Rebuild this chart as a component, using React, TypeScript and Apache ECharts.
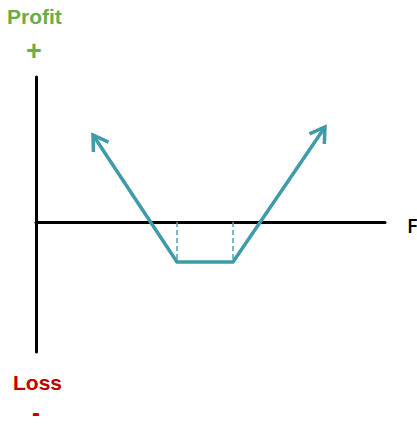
import React, { useEffect, useRef } from "react";
import * as echarts from "echarts";

// Payoff diagram (long strangle): price on x, profit on y
const payoffPrice = [57, 141, 197, 289];
const payoffProfit = [87, -40, -40, 95];
const strikes = [141, 197];
const strikeProfit = -40;

const xRange = [0, 349];
const yRange = [-130, 145];

const TEAL = "#3F9BA7";

export default function App() {
  const ref = useRef<HTMLDivElement>(null);
  useEffect(() => {
    if (!ref.current) return;
    const chart = echarts.init(ref.current, null, { renderer: "svg" });
    const payoff = payoffPrice.map((p, i) => [p, payoffProfit[i]]);
    const n = payoff.length;
    const arrows = [
      [payoff[0][0], payoff[0][1], payoff[1][0], payoff[1][1]],
      [payoff[n - 1][0], payoff[n - 1][1], payoff[n - 2][0], payoff[n - 2][1]],
    ];
    const dashSeries = strikes.map((k) => ({
      type: "line",
      data: [
        [k, 0],
        [k, strikeProfit],
      ],
      symbol: "none",
      silent: true,
      lineStyle: { color: "#4AA3AF", width: 1.5, type: [5, 3] },
      z: 1,
    }));
    chart.setOption({
      animation: false,
      grid: { left: 36, top: 77, width: 349, height: 275, containLabel: false },
      xAxis: {
        type: "value",
        min: xRange[0],
        max: xRange[1],
        axisLine: { onZero: true, lineStyle: { color: "#000", width: 3 } },
        axisTick: { show: false },
        axisLabel: { show: false },
        splitLine: { show: false },
      },
      yAxis: {
        type: "value",
        min: yRange[0],
        max: yRange[1],
        axisLine: { show: true, onZero: false, lineStyle: { color: "#000", width: 3 } },
        axisTick: { show: false },
        axisLabel: { show: false },
        splitLine: { show: false },
      },
      series: [
        ...dashSeries,
        {
          type: "line",
          data: payoff,
          symbol: "none",
          lineStyle: { color: TEAL, width: 3.5, join: "miter" },
          z: 3,
        },
        {
          type: "custom",
          data: arrows,
          z: 4,
          renderItem: (params: any, api: any) => {
            const tip = api.coord([api.value(0), api.value(1)]);
            const prev = api.coord([api.value(2), api.value(3)]);
            const ang = Math.atan2(prev[1] - tip[1], prev[0] - tip[0]);
            const len = 17;
            const spread = (32 * Math.PI) / 180;
            const a1 = [tip[0] + len * Math.cos(ang + spread), tip[1] + len * Math.sin(ang + spread)];
            const a2 = [tip[0] + len * Math.cos(ang - spread), tip[1] + len * Math.sin(ang - spread)];
            return {
              type: "polyline",
              shape: { points: [a1, tip, a2] },
              style: { stroke: TEAL, lineWidth: 3.5, fill: "none", lineJoin: "miter" },
            };
          },
        },
      ],
      graphic: [
        {
          type: "text",
          left: 7,
          top: 6,
          style: { text: "Profit", fill: "#6AAD47", font: "bold 21px 'Liberation Sans', Arial, sans-serif" },
        },
        {
          type: "text",
          left: 26,
          top: 37,
          style: { text: "+", fill: "#6AAD47", font: "bold 27px 'Liberation Sans', Arial, sans-serif" },
        },
        {
          type: "text",
          left: 13,
          top: 372,
          style: { text: "Loss", fill: "#C00000", font: "bold 21px 'Liberation Sans', Arial, sans-serif" },
        },
        {
          type: "text",
          left: 32,
          top: 400,
          style: {
            text: "-",
            fill: "#C00000",
            font: "bold 24px 'Liberation Sans', Arial, sans-serif",
            lineHeight: 22,
          },
        },
        {
          type: "text",
          left: 407,
          top: 215,
          style: { text: "F", fill: "#000", font: "600 20px 'Open Sans', sans-serif" },
        },
      ],
    });
    return () => chart.dispose();
  }, []);
  return (
    <div
      ref={ref}
      style={{ position: "fixed", left: 0, top: 0, width: 417, height: 424, background: "#fff" }}
    />
  );
}
